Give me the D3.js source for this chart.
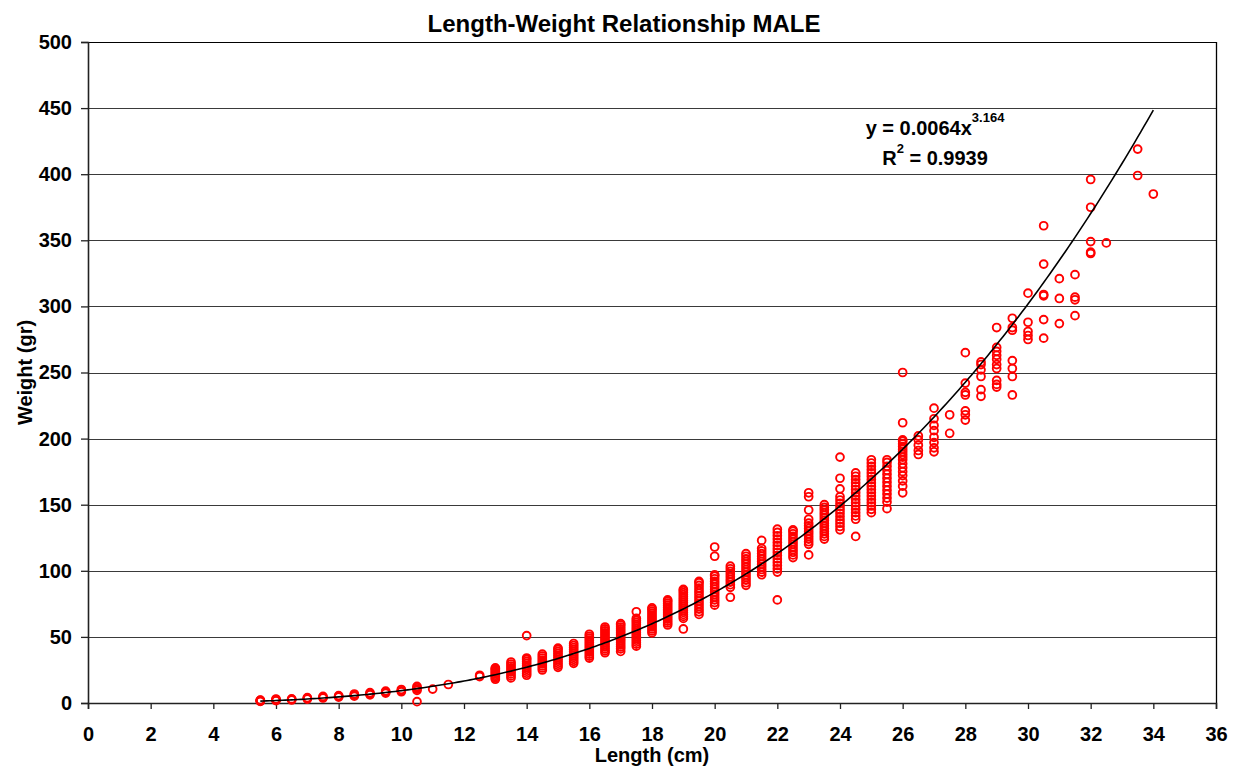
<!DOCTYPE html>
<html>
<head>
<meta charset="utf-8">
<script src="https://cdn.jsdelivr.net/npm/d3@7"></script>
<style>
  body { margin: 0; background: #fff; }
  text { font-family: "Liberation Sans", Arial, sans-serif; font-weight: bold; fill: #000; }
</style>
</head>
<body>
<div id="chart"></div>
<script>
// length classes (cm) and the weights (gr) observed in each class
const lengthClasses = [5.5, 6, 6.5, 7, 7.5, 8, 8.5, 9, 9.5, 10, 10.5, 11, 11.5, 12.5, 13, 13.5, 14, 14.5, 15, 15.5,
	16, 16.5, 17, 17.5, 18, 18.5, 19, 19.5, 20, 20.5, 21, 21.5, 22, 22.5, 23, 23.5, 24, 24.5, 25, 25.5,
	26, 26.5, 27, 27.5, 28, 28.5, 29, 29.5, 30, 30.5, 31, 31.5, 32, 32.5, 33.5, 34];

const weightsByLength = [
	[1.2, 1.5, 1.8, 2.0, 2.2],
	[1.8, 2.2, 2.6, 3.0],
	[2.3, 2.7, 3.1],
	[3.0, 3.5, 4.0],
	[3.8, 4.3, 5.0],
	[4.5, 5.0, 5.6],
	[5.2, 6.0, 6.8],
	[6.2, 7.0, 7.8],
	[7.5, 8.2, 9.0],
	[8.5, 9.2, 10.2],
	[1.0, 9.5, 10.5, 11.5, 12.5],
	[10.5],
	[14.0],
	[20, 21],
	[18, 19, 20, 21, 22, 23, 24, 25, 26, 26.5],
	[19, 20.5, 22, 23.5, 25, 26.5, 28, 29.5, 31],
	[21, 22.5, 24, 25.5, 27, 28.5, 30, 31.5, 33, 34, 51],
	[25, 26.5, 28, 29.5, 31, 32.5, 34, 35.5, 37],
	[27, 28.5, 30, 31.5, 33, 34.5, 36, 37.5, 39, 40.5, 41.5],
	[30, 31.5, 33, 34.5, 36, 37.5, 39, 40.5, 42, 43.5, 45],
	[34, 35.5, 37, 38.5, 40, 41.5, 43, 44.5, 46, 47.5, 49, 50.5, 52],
	[38, 39.5, 41, 42.5, 44, 45.5, 47, 48.5, 50, 51.5, 53, 54.5, 56, 57.5],
	[39, 41, 42.5, 44, 45.5, 47, 48.5, 50, 51.5, 53, 54.5, 56, 57.5, 59, 60],
	[43, 44.5, 46, 47.5, 49, 50.5, 52, 53.5, 55, 56.5, 58, 59.5, 61, 62.5, 64, 69],
	[53, 54.5, 56, 57.5, 59, 60.5, 62, 63.5, 65, 66.5, 68, 69.5, 71, 72],
	[59, 60.5, 62, 63.5, 65, 66.5, 68, 69.5, 71, 72.5, 74, 75.5, 77, 78],
	[56, 64, 65.5, 67, 68.5, 70, 71.5, 73, 74.5, 76, 77.5, 79, 80.5, 82, 83.5, 85, 86],
	[67, 69, 71, 73, 75, 77, 79, 81, 83, 85, 87, 89, 91, 92],
	[74, 76, 78, 80, 82, 84, 86, 88, 90, 92, 94, 96, 97, 111, 118],
	[80, 87.5, 89.5, 91.5, 93.5, 95.5, 97.5, 99.5, 101.5, 103.5],
	[89, 91, 93, 95, 97, 99, 101, 103, 105, 107, 109, 111, 113],
	[97, 99, 101, 103, 105, 107, 109, 111, 113, 115, 117, 123],
	[78, 99, 101.5, 104, 106.5, 109, 111.5, 114, 116.5, 119, 121.5, 124, 126.5, 129, 131.5],
	[110, 112, 114, 116, 118, 120, 122, 124, 126, 128, 130, 131],
	[112, 120, 122, 124, 126, 128, 130, 132, 134, 136, 139, 146, 156, 159],
	[124, 126, 128, 130, 132, 134, 136, 138, 140, 142, 144, 146, 148, 150],
	[131, 133.5, 136, 138.5, 141, 143.5, 146, 148.5, 151, 153.5, 156, 162, 170, 186],
	[126, 139, 141.5, 144, 146.5, 149, 151.5, 154, 156.5, 159, 161.5, 164, 166.5, 169, 171.5, 174],
	[144, 146.5, 149, 151.5, 154, 156.5, 159, 161.5, 164, 166.5, 169, 171.5, 174, 176.5, 179, 181.5, 184],
	[147, 152, 155, 158, 161, 164, 167, 170, 173, 176, 179, 182, 184],
	[159, 164, 168, 172, 175, 178, 181, 184, 186, 188, 190, 192, 194, 196, 198, 199, 212, 250],
	[188, 191, 195, 199, 202],
	[190, 193, 197, 201, 206, 210, 215, 223],
	[204, 218],
	[214, 218, 221, 233, 235, 242, 265],
	[232, 237, 247, 252, 256, 258],
	[239, 241, 244, 253, 256, 260, 263, 266, 269, 284],
	[233, 247, 253, 259, 282, 284, 291],
	[275, 278, 281, 288, 310],
	[276, 290, 308, 309, 332, 361],
	[287, 306, 321],
	[293, 305, 307, 324],
	[340, 341, 349, 375, 396],
	[348],
	[399, 419],
	[385]
];

// power trend line y = a * x^b
const trendA = 0.0064;
const trendB = 3.164;
const trendR2 = 0.9939;
const trendRange = [5.5, 34];

const xTicks = d3.range(0, 37, 2);
const yTicks = d3.range(0, 501, 50);

const chartTitle = 'Length-Weight Relationship MALE';
const xTitle = 'Length (cm)';
const yTitle = 'Weight (gr)';

let canvasWidth = 1244;
let canvasHeight = 769;
let margin = { top: 42, right: 28, bottom: 66, left: 88 };
let width = canvasWidth - margin.left - margin.right;
let height = canvasHeight - margin.top - margin.bottom;

let x = d3.scaleLinear().domain([0, 36]).range([0, width]);
let y = d3.scaleLinear().domain([0, 500]).range([height, 0]);

let svg = d3.select('#chart').append('svg')
		.attr('width', canvasWidth)
		.attr('height', canvasHeight)
	.append('g')
		.attr('transform', 'translate(' + margin.left + ',' + margin.top + ')');

// horizontal gridlines
svg.append('g')
	.selectAll('line')
	.data(yTicks.filter((d) => d > 0))
	.enter().append('line')
		.attr('x1', 0)
		.attr('x2', width)
		.attr('y1', (d) => Math.round(y(d)) + 0.5)
		.attr('y2', (d) => Math.round(y(d)) + 0.5)
		.attr('stroke', (d) => d === 500 ? '#000' : '#3a3a3a')
		.attr('stroke-width', 1);

// right border
svg.append('line')
	.attr('x1', width + 0.5).attr('x2', width + 0.5)
	.attr('y1', y(500)).attr('y2', y(0))
	.attr('stroke', '#000').attr('stroke-width', 1.3);

// axes
let yAxis = svg.append('g')
	.call(d3.axisLeft(y).tickValues(yTicks).tickSize(7).tickPadding(9));
let xAxis = svg.append('g')
	.attr('transform', 'translate(0,' + height + ')')
	.call(d3.axisBottom(x).tickValues(xTicks).tickSize(6).tickPadding(18));

[xAxis, yAxis].forEach((ax) => {
	ax.select('.domain').attr('stroke', '#222').attr('stroke-width', 1.6);
	ax.selectAll('.tick line').attr('stroke', '#222').attr('stroke-width', 1.3);
	ax.selectAll('.tick text')
		.style('font-family', '"Liberation Sans", Arial, sans-serif')
		.style('font-weight', 'bold')
		.style('font-size', '20px')
		.attr('fill', '#000');
});

// data points
let points = [];
lengthClasses.forEach((len, i) => {
	weightsByLength[i].forEach((w) => points.push({ length: len, weight: w }));
});

svg.append('g')
	.selectAll('circle')
	.data(points)
	.enter().append('circle')
		.attr('cx', (o) => x(o.length))
		.attr('cy', (o) => y(o.weight))
		.attr('r', 3.9)
		.attr('fill', 'none')
		.attr('stroke', '#ff0000')
		.attr('stroke-width', 1.9);

// trend line
let trendX = d3.range(trendRange[0], trendRange[1] + 0.001, 0.1);
let line = d3.line()
	.x((d) => x(d))
	.y((d) => y(trendA * Math.pow(d, trendB)));

svg.append('path')
	.datum(trendX)
	.attr('d', line)
	.attr('fill', 'none')
	.attr('stroke', '#000')
	.attr('stroke-width', 1.6);

// equation label
let eq = svg.append('g').attr('transform', 'translate(' + (935 - margin.left) + ',0)');
let eq1 = eq.append('text')
	.attr('y', 135 - margin.top)
	.attr('text-anchor', 'middle')
	.style('font-size', '20px');
eq1.append('tspan').text('y = ' + trendA + 'x');
eq1.append('tspan').attr('dy', -13).style('font-size', '13px').text(trendB);

let eq2 = eq.append('text')
	.attr('y', 165 - margin.top)
	.attr('text-anchor', 'middle')
	.style('font-size', '20px');
eq2.append('tspan').text('R');
eq2.append('tspan').attr('dy', -12).style('font-size', '13px').text('2');
eq2.append('tspan').attr('dy', 12).text(' = ' + trendR2);

// titles
let root = d3.select('#chart svg');
root.append('text')
	.attr('x', 624)
	.attr('y', 32)
	.attr('text-anchor', 'middle')
	.style('font-size', '24px')
	.text(chartTitle);

root.append('text')
	.attr('x', margin.left + x(18))
	.attr('y', 762)
	.attr('text-anchor', 'middle')
	.style('font-size', '20px')
	.text(xTitle);

root.append('text')
	.attr('transform', 'translate(32,' + (margin.top + y(250)) + ') rotate(-90)')
	.attr('text-anchor', 'middle')
	.style('font-size', '20px')
	.text(yTitle);
</script>
</body>
</html>
